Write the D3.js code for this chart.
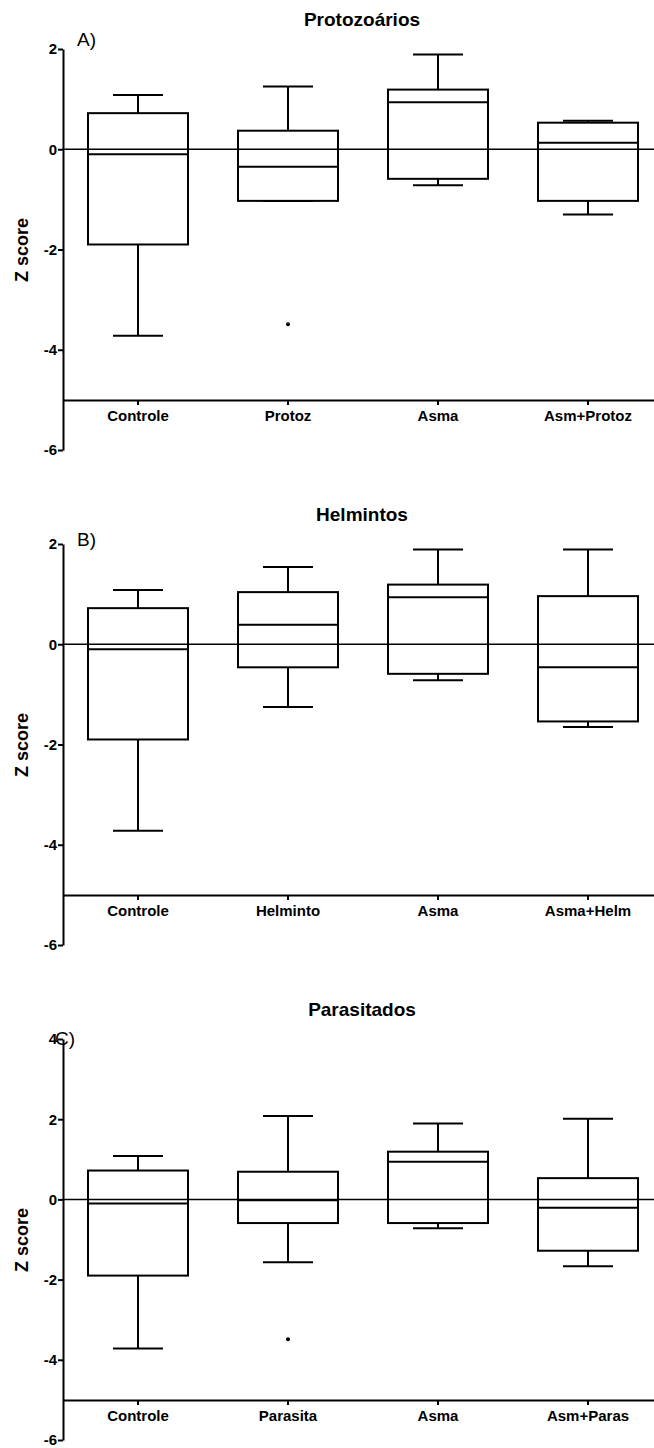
<!DOCTYPE html>
<html>
<head>
<meta charset="utf-8">
<script src="https://cdn.jsdelivr.net/npm/d3@7"></script>
<style>
  body { margin: 0; background: #fff; }
  text { font-family: 'Liberation Sans', Arial, sans-serif; fill: #000; }
</style>
</head>
<body>
<svg id="chart" width="654" height="1448"></svg>
<script>
const titles = ['Protozoários', 'Helmintos', 'Parasitados']
const panelTags = ['A)', 'B)', 'C)']

const categoriesA = ['Controle', 'Protoz', 'Asma', 'Asm+Protoz']
const categoriesB = ['Controle', 'Helminto', 'Asma', 'Asma+Helm']
const categoriesC = ['Controle', 'Parasita', 'Asma', 'Asm+Paras']

// [min, q1, median, q3, max] per group
const statsA = [
  [-3.72, -1.9, -0.1, 0.72, 1.08],
  [-1.03, -1.03, -0.35, 0.37, 1.25],
  [-0.72, -0.59, 0.94, 1.19, 1.89],
  [-1.3, -1.03, 0.13, 0.53, 0.57]
]
const statsB = [
  [-3.72, -1.9, -0.1, 0.72, 1.08],
  [-1.25, -0.46, 0.39, 1.04, 1.54],
  [-0.72, -0.59, 0.94, 1.19, 1.89],
  [-1.65, -1.54, -0.46, 0.96, 1.89]
]
const statsC = [
  [-3.72, -1.9, -0.1, 0.72, 1.08],
  [-1.57, -0.59, -0.02, 0.69, 2.08],
  [-0.72, -0.59, 0.94, 1.19, 1.89],
  [-1.67, -1.28, -0.21, 0.53, 2.01]
]

// outliers: [group index, value]
const outliersA = [[1, -3.49]]
const outliersB = []
const outliersC = [[1, -3.49]]

const yDomains = [[-6, 2], [-6, 2], [-6, 4]]
const yTicksAB = [2, 0, -2, -4, -6]
const yTicksC = [4, 2, 0, -2, -4, -6]

const panels = [
  { cats: categoriesA, stats: statsA, outliers: outliersA, ticks: yTicksAB },
  { cats: categoriesB, stats: statsB, outliers: outliersB, ticks: yTicksAB },
  { cats: categoriesC, stats: statsC, outliers: outliersC, ticks: yTicksC }
]

const svg = d3.select('#chart')
const panelH = 495
const left = 63
const tagPos = [[77, 46], [77, 51], [55, 55]]

panels.forEach(function(p, i) {
  const g = svg.append('g').attr('transform', 'translate(0,' + i * panelH + ')')

  const x = d3.scaleBand().domain(p.cats).range([left, left + 600]).padding(0)
  const y = d3.scaleLinear().domain(yDomains[i]).range([450, 49])
  const bw = x.bandwidth() * 2 / 3
  const cw = x.bandwidth() / 3

  // title
  g.append('text')
    .attr('x', 362)
    .attr('y', 26)
    .attr('text-anchor', 'middle')
    .style('font-size', '19px')
    .style('font-weight', 'bold')
    .text(titles[i])

  // panel tag
  g.append('text')
    .attr('x', tagPos[i][0])
    .attr('y', tagPos[i][1])
    .style('font-size', '19px')
    .text(panelTags[i])

  // y label
  g.append('text')
    .attr('transform', 'translate(28,' + 250 + ') rotate(-90)')
    .attr('text-anchor', 'middle')
    .style('font-size', '18px')
    .style('font-weight', 'bold')
    .text('Z score')

  // y axis
  const yAxis = g.append('g')
    .attr('transform', 'translate(' + left + ',0)')
    .call(d3.axisLeft(y).tickValues(p.ticks).tickSize(5).tickSizeOuter(0).tickPadding(1)
      .tickFormat(d => String(d)))
  yAxis.selectAll('path, line').attr('stroke', '#000').attr('stroke-width', 2)
  yAxis.selectAll('text').style('font-size', '15px').style('font-weight', 'bold')

  // x axis at -5
  const xAxis = g.append('g')
    .attr('transform', 'translate(0,' + y(-5) + ')')
    .call(d3.axisBottom(x).tickSize(5).tickSizeOuter(0).tickPadding(5))
  xAxis.selectAll('path, line').attr('stroke', '#000').attr('stroke-width', 2)
  xAxis.selectAll('text').style('font-size', '15px').style('font-weight', 'bold')

  // zero line
  g.append('line')
    .attr('x1', left).attr('x2', left + 600)
    .attr('y1', y(0)).attr('y2', y(0))
    .attr('stroke', '#000').attr('stroke-width', 1.5)

  const box = g.selectAll('.box')
    .data(p.stats)
    .enter()
    .append('g')
    .attr('class', 'box')
    .attr('transform', (d, j) => 'translate(' + (x(p.cats[j]) + x.bandwidth() / 2) + ',0)')

  // whiskers
  box.append('line')
    .attr('x1', 0).attr('x2', 0)
    .attr('y1', d => y(d[4])).attr('y2', d => y(d[3]))
  box.append('line')
    .attr('x1', 0).attr('x2', 0)
    .attr('y1', d => y(d[1])).attr('y2', d => y(d[0]))
  box.append('line')
    .attr('x1', -cw / 2).attr('x2', cw / 2)
    .attr('y1', d => y(d[4])).attr('y2', d => y(d[4]))
  box.append('line')
    .attr('x1', -cw / 2).attr('x2', cw / 2)
    .attr('y1', d => y(d[0])).attr('y2', d => y(d[0]))

  // box
  box.append('rect')
    .attr('x', -bw / 2)
    .attr('width', bw)
    .attr('y', d => y(d[3]))
    .attr('height', d => y(d[1]) - y(d[3]))
    .attr('fill', 'none')

  // median
  box.append('line')
    .attr('x1', -bw / 2).attr('x2', bw / 2)
    .attr('y1', d => y(d[2])).attr('y2', d => y(d[2]))

  box.selectAll('line, rect').attr('stroke', '#000').attr('stroke-width', 2)

  g.selectAll('.outlier')
    .data(p.outliers)
    .enter()
    .append('circle')
    .attr('class', 'outlier')
    .attr('cx', d => x(p.cats[d[0]]) + x.bandwidth() / 2)
    .attr('cy', d => y(d[1]))
    .attr('r', 2)
    .attr('fill', '#000')
})
</script>
</body>
</html>
